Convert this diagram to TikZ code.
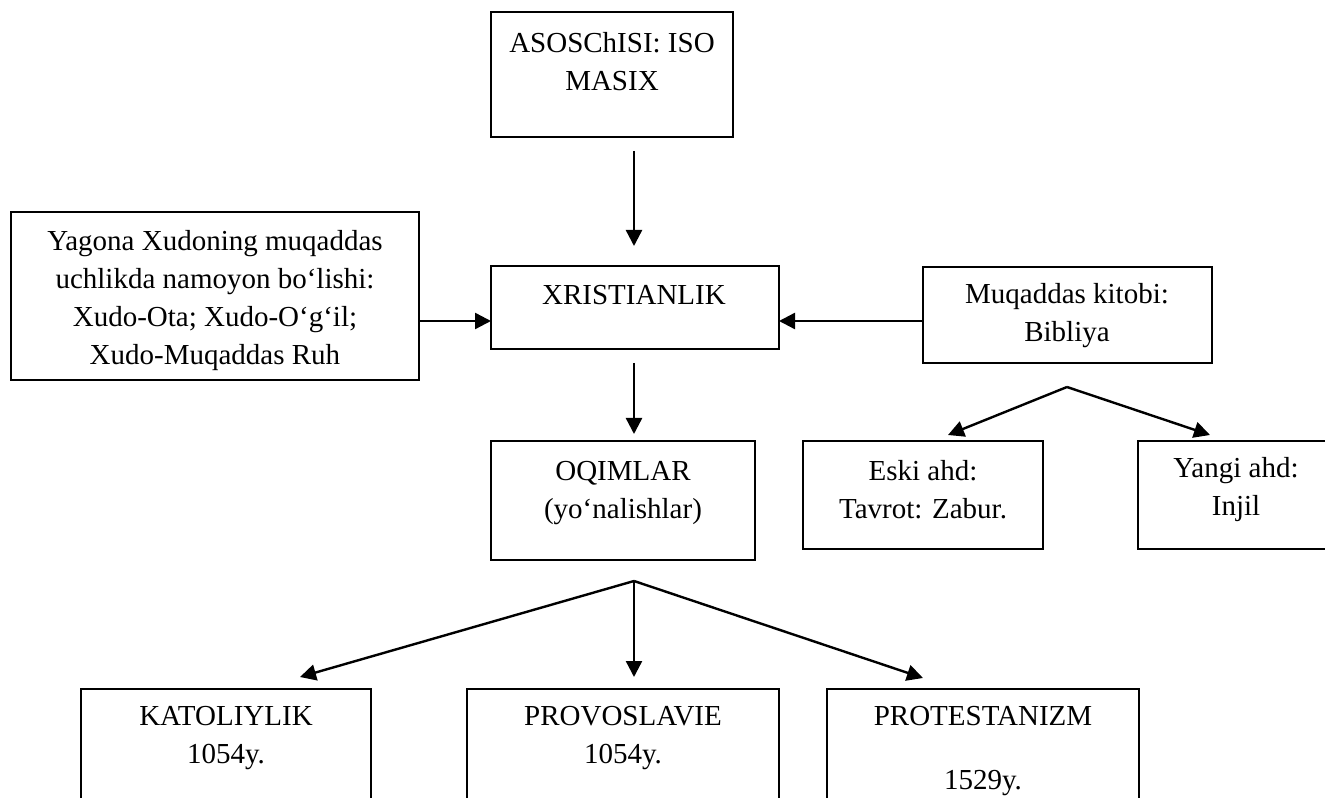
\documentclass[tikz,border=0pt]{standalone}
\usepackage{fontspec}
\setmainfont{Liberation Serif}
\usetikzlibrary{arrows.meta}
\tikzset{
  box/.style={draw, line width=1.5pt, inner sep=0pt, outer sep=0pt},
  txt/.style={align=center, inner sep=0pt, font=\fontsize{21.75pt}{28.5pt}\selectfont},
  arr/.style={line width=1.8pt, -{Triangle[length=12pt,width=12pt]}},
  ln/.style={line width=1.8pt}
}
\newcommand\mkbox[5]{\node[box,anchor=north west,minimum width={(#4-#2)*0.75pt},minimum height={(#5-#3)*0.75pt}] (#1) at (#2,#3) {};}
\begin{document}
\begin{tikzpicture}[x=0.75pt,y=-0.75pt]
\useasboundingbox (0,0) rectangle (1325,798);
% boxes
\mkbox{top}{491}{12}{733}{137}
\mkbox{xr}{491}{266}{779}{349}
\mkbox{lb}{11}{212}{419}{380}
\mkbox{mk}{923}{267}{1212}{363}
\mkbox{oq}{491}{441}{755}{560}
\mkbox{ea}{803}{441}{1043}{549}
\mkbox{ya}{1138}{441}{1334}{549}
\mkbox{ka}{81}{689}{371}{815}
\mkbox{pv}{467}{689}{779}{815}
\mkbox{pt}{827}{689}{1139}{815}
% texts
\node[txt] (ttop) at (612,62) {ASOSChISI: ISO\\MASIX};
\node[txt] (txr) at (634,295) {XRISTIANLIK};
\node[txt] (tlb) at (215,301) {Yagona Xudoning muqaddas\\uchlikda namoyon bo‘lishi:\\Xudo-Ota; Xudo-O‘g‘il;\\Xudo-Muqaddas Ruh};
\node[txt] (tmk) at (1067,316) {Muqaddas kitobi:\\Bibliya};
\node[txt] (toq) at (623,493) {OQIMLAR\\(yo‘nalishlar)};
\node[txt] (tea) at (923,490) {Eski ahd:\\Tavrot: Zabur.};
\node[txt] (tya) at (1236,490) {Yangi ahd:\\Injil};
\node[txt] (tka) at (226,738) {KATOLIYLIK\\1054y.};
\node[txt] (tpv) at (623,738) {PROVOSLAVIE\\1054y.};
\node[txt] (tpt) at (983,751) {PROTESTANIZM\\[20pt]1529y.};
% connector points
\coordinate (a1) at (634,151);
\coordinate (a2) at (634,246);
\coordinate (b1) at (419,321);
\coordinate (b2) at (491,321);
\coordinate (c1) at (923,321);
\coordinate (c2) at (779,321);
\coordinate (d1) at (634,363);
\coordinate (d2) at (634,434);
\coordinate (m0) at (1067,387);
\coordinate (m1) at (948,435);
\coordinate (m2) at (1210,435);
\coordinate (o0) at (634,581);
\coordinate (o1) at (300,677);
\coordinate (o2) at (634,677);
\coordinate (o3) at (923,678);
% connectors
\draw[arr] (a1) -- (a2);
\draw[arr] (b1) -- (b2);
\draw[arr] (c1) -- (c2);
\draw[arr] (d1) -- (d2);
\draw[arr] (m0) -- (m1);
\draw[arr] (m0) -- (m2);
\draw[arr] (o0) -- (o1);
\draw[arr] (o0) -- (o2);
\draw[arr] (o0) -- (o3);
\end{tikzpicture}
\end{document}
